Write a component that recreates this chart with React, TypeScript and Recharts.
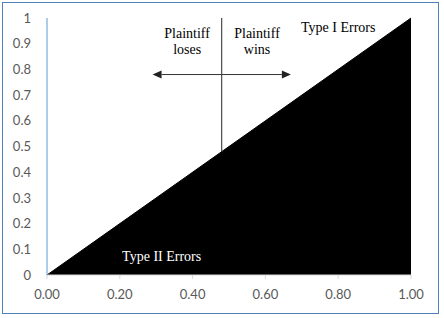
import React from 'react'
import {
  ComposedChart, Area, XAxis, YAxis, ReferenceLine, ReferenceDot,
} from 'recharts'

const diagonal = [
  { x: 0, y: 0 },
  { x: 1, y: 1 },
]
const xTicks = [0, 0.2, 0.4, 0.6, 0.8, 1]
const yTicks = [0, 0.1, 0.2, 0.3, 0.4, 0.5, 0.6, 0.7, 0.8, 0.9, 1]

const threshold = 0.48
const arrowY = 0.78
const arrowLeftEnd = 0.29
const arrowRightEnd = 0.67

const labels = [
  { x: 0.385, y: 0.91, lines: ['Plaintiff', 'loses'], color: '#000' },
  { x: 0.577, y: 0.91, lines: ['Plaintiff', 'wins'], color: '#000' },
  { x: 0.8, y: 0.965, lines: ['Type I Errors'], color: '#000' },
  { x: 0.315, y: 0.074, lines: ['Type II Errors'], color: '#fff' },
]

const serif = "'Liberation Serif', 'Times New Roman', serif"
const sans = 'Lato, Carlito, "Open Sans", sans-serif'

// line with a filled arrowhead at (x2, y2)
function Arrow(props: any) {
  const { x1, y1, x2, y2 } = props
  const dir = x2 > x1 ? 1 : -1
  const len = 9
  const half = 4
  return (
    <g>
      <line x1={x1} y1={y1} x2={x2 - dir * len} y2={y2} stroke="#333" strokeWidth={1} />
      <polygon
        points={`${x2},${y2} ${x2 - dir * len},${y2 - half} ${x2 - dir * len},${y2 + half}`}
        fill="#222"
      />
    </g>
  )
}

function makeText(lines: string[], color: string) {
  return (props: any) => {
    const { cx, cy } = props
    const lh = 16
    const top = cy - ((lines.length - 1) * lh) / 2
    return (
      <text
        x={cx}
        y={top}
        textAnchor="middle"
        dominantBaseline="central"
        style={{ fontFamily: serif, fontSize: 14, fill: color }}
      >
        {lines.map((l, i) => (
          <tspan key={i} x={cx} y={top + i * lh}>{l}</tspan>
        ))}
      </text>
    )
  }
}

export default function App() {
  return (
    <div style={{ position: 'absolute', left: 0, top: 0, width: 444, height: 318, background: '#fff' }}>
      <div
        style={{
          position: 'absolute', left: 2, top: 2, width: 435, height: 310,
          border: '1px solid #4F81BD',
        }}
      />
      <div style={{ position: 'absolute', left: 0, top: 0 }}>
        <ComposedChart
          width={444}
          height={318}
          data={diagonal}
          margin={{ top: 18, right: 33, left: 0, bottom: 13 }}
        >
          <XAxis
            type="number"
            dataKey="x"
            domain={[0, 1]}
            ticks={xTicks}
            tickFormatter={(v: number) => v.toFixed(2)}
            height={30}
            tickSize={4}
            tickMargin={11}
            stroke="#D9D9D9"
            tick={{ fill: '#595959', fontSize: 13, fontFamily: sans }}
            interval={0}
          />
          <YAxis
            type="number"
            domain={[0, 1]}
            ticks={yTicks}
            tickFormatter={(v: number) => String(v)}
            width={47}
            tickLine={false}
            tickSize={0}
            tickMargin={16}
            stroke="#5B9BD5"
            tick={{ fill: '#595959', fontSize: 13, fontFamily: sans }}
            interval={0}
          />
          <Area
            type="linear"
            dataKey="y"
            stroke="#000"
            fill="#000"
            fillOpacity={1}
            isAnimationActive={false}
            dot={false}
            activeDot={false}
          />
          <ReferenceLine
            segment={[{ x: threshold, y: threshold }, { x: threshold, y: 1 }]}
            stroke="#262626"
            strokeWidth={1}
          />
          <ReferenceLine
            segment={[{ x: threshold, y: arrowY }, { x: arrowLeftEnd, y: arrowY }]}
            shape={Arrow}
          />
          <ReferenceLine
            segment={[{ x: threshold, y: arrowY }, { x: arrowRightEnd, y: arrowY }]}
            shape={Arrow}
          />
          {labels.map((l, i) => (
            <ReferenceDot
              key={i}
              x={l.x}
              y={l.y}
              r={0}
              shape={makeText(l.lines, l.color)}
            />
          ))}
        </ComposedChart>
      </div>
    </div>
  )
}
